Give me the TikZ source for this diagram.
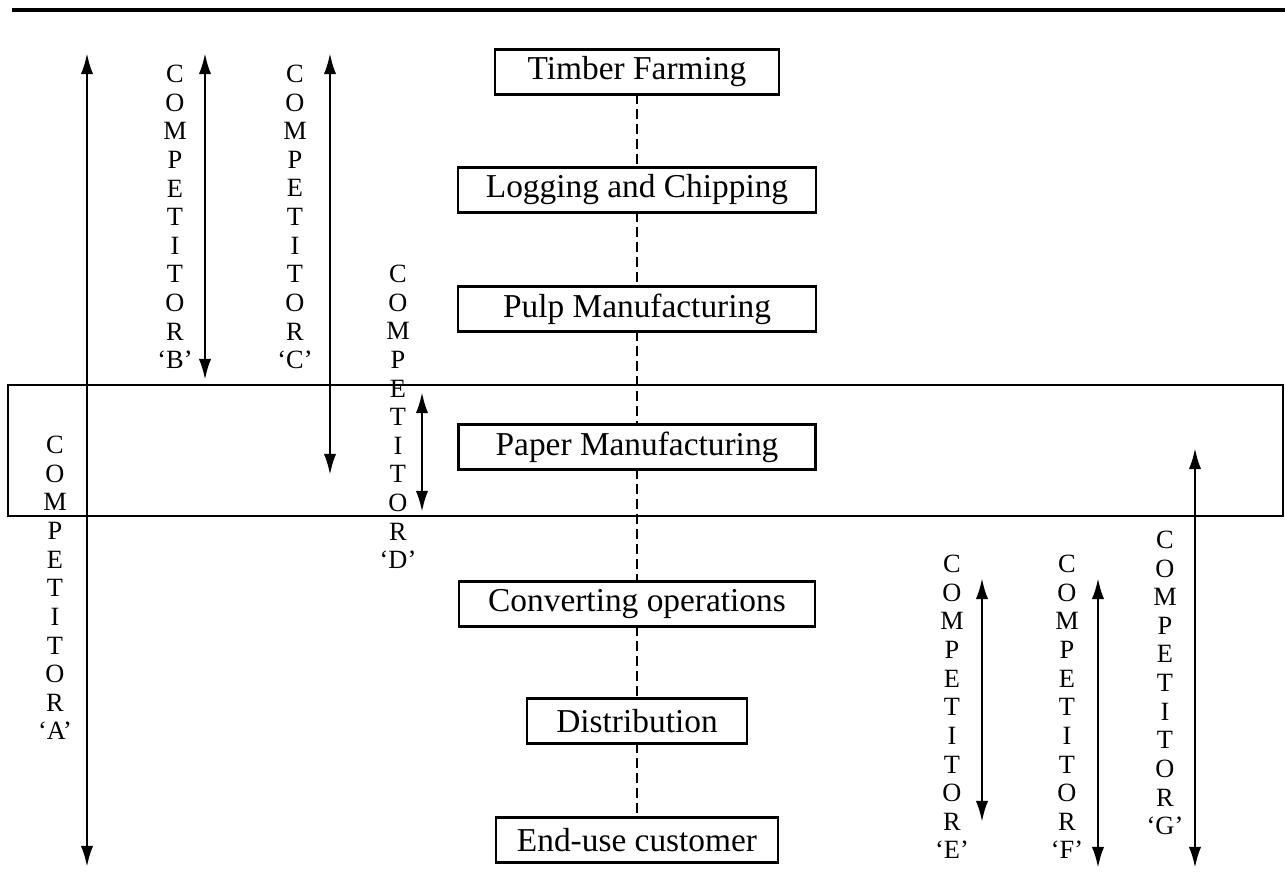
\documentclass[tikz,border=0pt]{standalone}
\usepackage{fontspec}
\setmainfont{Liberation Serif}
\usepackage{tikz}
\usetikzlibrary {
  positioning,
  arrows.meta,
}
\tikzset{
  stage/.style = {
    rectangle,
    draw = black,
    line width = 1.5pt,
    font = \fontsize{19}{21}\selectfont,
    minimum height = 0.9cm,
    inner sep = 0pt,
    outer sep = 0pt
  },
  letters/.style = {
    align = center,
    inner sep = 0pt,
    font = \fontsize{15}{16.3}\selectfont
  },
  span/.style = {
    {Latex[length = 12pt, width = 7pt]}-{Latex[length = 12pt, width = 7pt]},
    line width = 1.5pt
  },
  link/.style = {
    -,
    line width = 1.5pt,
    dash pattern = on 5.5pt off 3pt
  },
  frame/.style = {
    line width = 1.5pt
  },
}
\newcommand{\competitor}[1]{C\\O\\M\\P\\E\\T\\I\\T\\O\\R\\‘#1’}

\begin{document}
\begin{tikzpicture}[x = 0.02cm, y = -0.02cm]
  \useasboundingbox (0,0) rectangle (1285,892);
  \draw[line width = 2pt] (12,10) -- (1285,10);
  % value chain
  \node[stage, minimum width = 5.68cm] (timber) at (637,72) {Timber Farming};
  \node[stage, minimum width = 7.16cm, below = 1.46cm of timber] (logging)
  {Logging and Chipping};
  \node[stage, minimum width = 7.16cm, below = 1.48cm of logging] (pulp)
  {Pulp Manufacturing};
  \node[stage, minimum width = 7.14cm, below = 1.86cm of pulp] (paper)
  {Paper Manufacturing};
  \node[stage, minimum width = 7.12cm, below = 2.24cm of paper] (converting)
  {Converting operations};
  \node[stage, minimum width = 4.4cm, below = 1.44cm of converting] (distribution)
  {Distribution};
  \node[stage, minimum width = 5.64cm, below = 1.48cm of distribution] (customer)
  {End-use customer};
  \draw[link] (timber) -- (logging);
  \draw[link] (logging) -- (pulp);
  \draw[link] (pulp) -- (paper);
  \draw[link] (paper) -- (converting);
  \draw[link] (converting) -- (distribution);
  \draw[link] (distribution) -- (customer);
  % paper band
  \draw[frame] (8,385) rectangle (1283,516);
  % competitors
  \foreach \n/\lx/\ly/\ax/\at/\ab in {
    A/55/588/87/53/867,
    B/175/217/205/53/380,
    C/295/217/330/53/475,
    D/398/417/422/392/512,
    E/952/707/982/578/822,
    F/1067/707/1098/578/868,
    G/1165/683/1195/448/868%
  }{
    \node[letters] (comp\n) at (\lx,\ly) {\competitor{\n}};
    \coordinate (comp\n-top) at (\ax,\at);
    \coordinate (comp\n-bot) at (\ax,\ab);
    \draw[span] (comp\n-top) -- (comp\n-bot);
  }
\end{tikzpicture}
\end{document}
